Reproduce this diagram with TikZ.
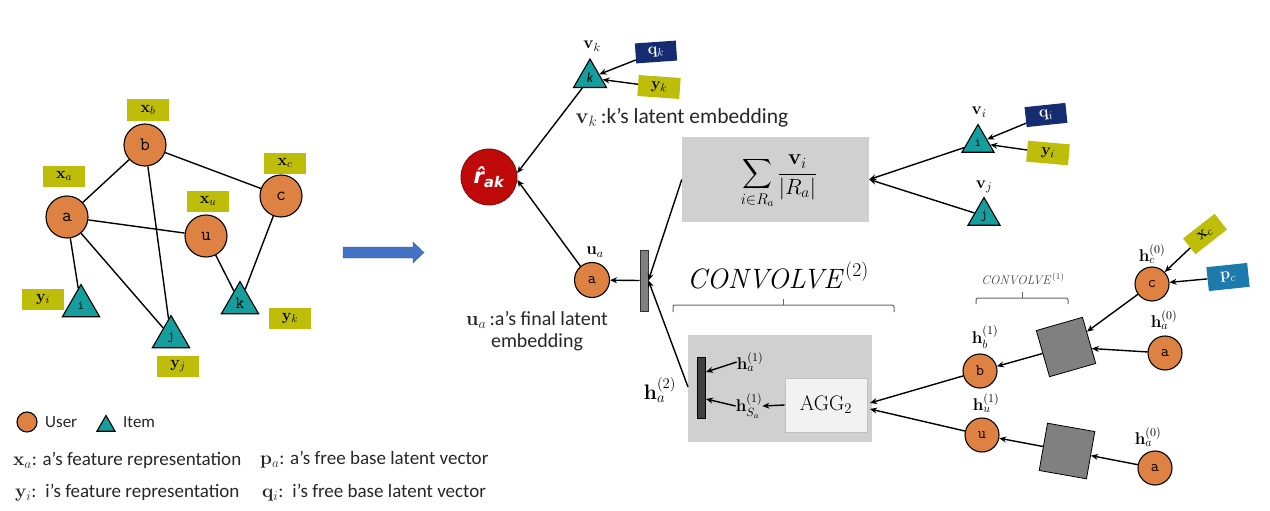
\RequirePackage{fix-cm}
\documentclass[tikz,border=0pt]{standalone}
\usepackage{exscale}
\usepackage[no-math]{fontspec}
\setmainfont{Carlito}
\newfontfamily\djv{DejaVu Sans}
\usetikzlibrary{arrows.meta,shapes.geometric,calc}
\definecolor{uor}{RGB}{222,130,68}
\definecolor{ite}{RGB}{22,158,158}
\definecolor{olv}{RGB}{190,190,10}
\definecolor{nav}{RGB}{22,44,112}
\definecolor{pbl}{RGB}{28,122,172}
\definecolor{rred}{RGB}{192,10,10}
\definecolor{rdark}{RGB}{120,10,10}
\definecolor{gbx}{RGB}{208,208,208}
\definecolor{sqg}{RGB}{128,128,128}
\definecolor{blu}{RGB}{68,114,196}
\definecolor{bludark}{RGB}{50,90,160}
\definecolor{txt}{RGB}{38,38,38}
\newcommand{\cnv}{\mathit{CONVOLVE}}
\begin{document}
\begin{tikzpicture}[x=1pt,y=-1pt,
  user/.style={circle,draw=black,line width=1.1pt,fill=uor,inner sep=0pt,minimum size=#1,font=\ttfamily\fontsize{16}{16}\selectfont},
  user/.default=34,
  item/.style={regular polygon,regular polygon sides=3,draw=black,line width=1.1pt,fill=ite,inner sep=0pt,minimum size=#1,font=\ttfamily\fontsize{13}{13}\selectfont},
  feat/.style={fill=olv,minimum width=42,minimum height=21,inner sep=0pt,font=\fontsize{16}{16}\selectfont},
  free/.style={fill=#1,minimum width=41,minimum height=20,inner sep=0pt,text=white,font=\fontsize{16}{16}\selectfont},
  edge/.style={line width=1.4pt,black},
  arr/.style={line width=1.4pt,-{Stealth[length=7pt,width=6pt]}},
  hl/.style={font=\fontsize{17}{17}\selectfont,inner sep=0pt},
  txtn/.style={text=txt,inner sep=0pt},
  gbox/.style={fill=gbx,draw=none,inner sep=0pt},
  sqn/.style={fill=sqg,draw=black,line width=0.8pt,minimum size=48,inner sep=0pt},
  brace/.style={draw=black!60,line width=1pt,rounded corners=2pt},
  ratenode/.style={circle,fill=rred,draw=rdark,line width=0.8pt,minimum size=56,inner sep=0pt,text=white,font=\djv\bfseries\itshape\fontsize{21}{21}\selectfont},
]
\useasboundingbox (0,0) rectangle (1270,511);

% ---------- left graph ----------
\node[user=42,font=\ttfamily\fontsize{19}{19}\selectfont] (ga) at (67,217) {a};
\node[user=42,font=\ttfamily\fontsize{19}{19}\selectfont] (gb) at (145,145) {b};
\node[user=42,font=\ttfamily\fontsize{19}{19}\selectfont] (gu) at (206,236) {u};
\node[user=42,font=\ttfamily\fontsize{19}{19}\selectfont] (gc) at (281,196) {c};
\node[item=43] (gi) at (81,306) {i};
\node[item=43] (gj) at (171,337) {j};
\node[item=43,font=\ttfamily\fontsize{17}{17}\selectfont] (gk) at (240,303) {k};
\draw[edge] (ga) -- (gb);
\draw[edge] (gb) -- (gc);
\draw[edge] (ga) -- (gu);
\draw[edge] (gb) -- (gj);
\draw[edge] (ga) -- (gi);
\draw[edge] (ga) -- (gj);
\draw[edge] (gu) -- (gk);
\draw[edge] (gc) -- (gk);
\node[feat] (lxb) at (148,110) {$\mathbf{x}_b$};
\node[feat] (lxa) at (64,176) {$\mathbf{x}_a$};
\node[feat] (lxu) at (208,201) {$\mathbf{x}_u$};
\node[feat] (lxc) at (285,163) {$\mathbf{x}_c$};
\node[feat] (lyi) at (43,299) {$\mathbf{y}_i$};
\node[feat] (lyk) at (290,318) {$\mathbf{y}_k$};
\node[feat] (lyj) at (178,366) {$\mathbf{y}_j$};

% ---------- legend ----------
\node[user=20] (lu) at (27,422) {};
\node[txtn,anchor=west,font=\fontsize{17}{17}\selectfont] (lut) at (45,422) {User};
\node[item=21] (lit) at (106,426) {};
\node[txtn,anchor=west,font=\fontsize{17}{17}\selectfont] (litt) at (123,422) {Item};
\node[txtn,anchor=west,font=\fontsize{19}{19}\selectfont] (lg1) at (13,460) {$\mathbf{x}_a$: a’s feature representation};
\node[txtn,anchor=west,font=\fontsize{19}{19}\selectfont] (lg2) at (260,460) {$\mathbf{p}_a$: a’s free base latent vector};
\node[txtn,anchor=west,font=\fontsize{19}{19}\selectfont] (lg3) at (15,493) {$\mathbf{y}_i$:\, i’s feature representation};
\node[txtn,anchor=west,font=\fontsize{19}{19}\selectfont] (lg4) at (262,493) {$\mathbf{q}_i$:\, i’s free base latent vector};

% ---------- blue arrow ----------
\fill[fill=blu,draw=bludark,line width=0.4pt] (343,247) -- (413,247) -- (413,242) -- (424,252.5) -- (413,263) -- (413,258) -- (343,258) -- cycle;

% ---------- top middle ----------
\node[ratenode] (rak) at (489,177) {r̂\textsubscript{ak}};
\node[item=38,font=\itshape\fontsize{14}{14}\selectfont] (vk) at (590,78) {k};
\node[hl] (vkl) at (592,46) {$\mathbf{v}_k$};
\node[free=nav,rotate=4] (qk) at (656,52) {$\mathbf{q}_k$};
\node[feat,rotate=-4] (yk) at (659,87) {$\mathbf{y}_k$};
\draw[arr] (qk) -- (vk);
\draw[arr] (yk) -- (vk);
\node[txtn,font=\fontsize{21.5}{21.5}\selectfont] (vkt) at (682,118) {$\mathbf{v}_k$\,:k’s latent embedding};
\draw[arr] (vk) -- (rak.8);

\node[gbox,minimum width=187,minimum height=85] (sumb) at (775.5,179.5) {};
\node[inner sep=0pt,font=\fontsize{22}{22}\selectfont] (sumf) at (779,182) {$\displaystyle\sum_{i\in R_a}\frac{\mathbf{v}_i}{|R_a|}$};

\node[item=37] (vi) at (978,143) {i};
\node[hl] (vil) at (979,112) {$\mathbf{v}_i$};
\node[free=nav,rotate=6] (qi) at (1046,115) {$\mathbf{q}_i$};
\node[feat,rotate=-5] (yi) at (1048,153) {$\mathbf{y}_i$};
\draw[arr] (qi) -- (vi);
\draw[arr] (yi) -- (vi);
\node[item=37] (vj) at (984,216) {j};
\node[hl] (vjl) at (984,187) {$\mathbf{v}_j$};
\draw[arr] (vi) -- (sumb.east);
\draw[arr] (vj) -- (sumb.east);

% ---------- u_a and concat ----------
\node[user=35] (ua) at (592,280) {a};
\node[hl] (ual) at (595,252) {$\mathbf{u}_a$};
\node[fill=sqg,draw=black!80,line width=0.8pt,minimum width=8,minimum height=61,inner sep=0pt] (bar) at (644,280.5) {};
\draw[arr] (bar.west) -- (ua);
\draw[arr] (ua.130) -- (rak.-6);
\draw[arr] (sumb.west) -- (bar.east);
\node[txtn,align=center,font=\fontsize{20}{22}\selectfont] (uat) at (537,331) {$\mathbf{u}_a$\,:a’s final latent\\embedding};

\node[inner sep=0pt,font=\fontsize{28}{28}\selectfont] (cv2) at (778,275) {$\cnv^{(2)}$};
\draw[brace] (673,312) -- (673,305) -- (894,305) -- (894,312);
\draw[draw=black!60,line width=1pt] (783,305) -- (783,299);

% ---------- convolve-2 box ----------
\node[gbox,minimum width=184,minimum height=107] (gb2) at (780,388.5) {};
\node[fill=black!75,draw=black,line width=0.6pt,minimum width=8,minimum height=61,inner sep=0pt] (ibar) at (701,387.5) {};
\node[hl] (ha1) at (750,362) {$\mathbf{h}_a^{(1)}$};
\node[hl] (hsa) at (749,406) {$\mathbf{h}_{S_a}^{(1)}$};
\node[fill=black!5,draw=black!25,line width=0.6pt,minimum width=82,minimum height=54,inner sep=0pt,font=\fontsize{21}{21}\selectfont] (agg) at (826,405) {$\mathrm{AGG}_2$};
\coordinate (ib1) at (706,372);
\coordinate (ib2) at (706,399);
\draw[arr] (ha1.west) -- (ib1);
\draw[arr] (hsa.west) -- (ib2);
\draw[arr] (agg.west) -- (hsa.east);
\node[hl,font=\fontsize{21}{21}\selectfont] (ha2) at (660,390) {$\mathbf{h}_a^{(2)}$};
\coordinate (gb2in) at (688,387);
\draw[arr] (gb2in) -- (bar.east);

% ---------- right bottom ----------
\node[user] (nc) at (1152,284) {c};
\node[hl] (ncl) at (1152,254) {$\mathbf{h}_c^{(0)}$};
\node[feat,rotate=38,minimum width=40,minimum height=20] (xcb) at (1205,234) {$\mathbf{x}_c$};
\node[free=pbl,rotate=6,minimum height=24] (pcb) at (1228,277) {$\mathbf{p}_c$};
\draw[arr] (xcb) -- (nc);
\draw[arr] (pcb) -- (nc);
\node[inner sep=0pt,font=\fontsize{12.5}{12.5}\selectfont,text=black!75] (cv1) at (1023,279) {$\cnv^{(1)}$};
\draw[brace] (976,304) -- (976,298) -- (1068,298) -- (1068,304);
\draw[draw=black!60,line width=1pt] (1022,298) -- (1022,292);

\node[sqn,rotate=16] (sq1) at (1066,347) {};
\node[user] (na1) at (1165,353) {a};
\node[hl] (na1l) at (1164,320) {$\mathbf{h}_a^{(0)}$};
\node[user] (nb) at (980,371) {b};
\node[hl] (nbl) at (985,337) {$\mathbf{h}_b^{(1)}$};
\node[user] (nu) at (982,435) {u};
\node[hl] (nul) at (986,403) {$\mathbf{h}_u^{(1)}$};
\node[sqn,rotate=-10] (sq2) at (1067,451) {};
\node[user] (na2) at (1155,468) {a};
\node[hl] (na2l) at (1148,437) {$\mathbf{h}_a^{(0)}$};

\coordinate (in1) at (870,403);
\coordinate (in2) at (870,409);
\draw[arr] (nc) -- (sq1);
\draw[arr] (na1) -- (sq1);
\draw[arr] (sq1) -- (nb);
\draw[arr] (nb) -- (in1);
\draw[arr] (na2) -- (sq2);
\draw[arr] (sq2) -- (nu);
\draw[arr] (nu) -- (in2);
\end{tikzpicture}
\end{document}
